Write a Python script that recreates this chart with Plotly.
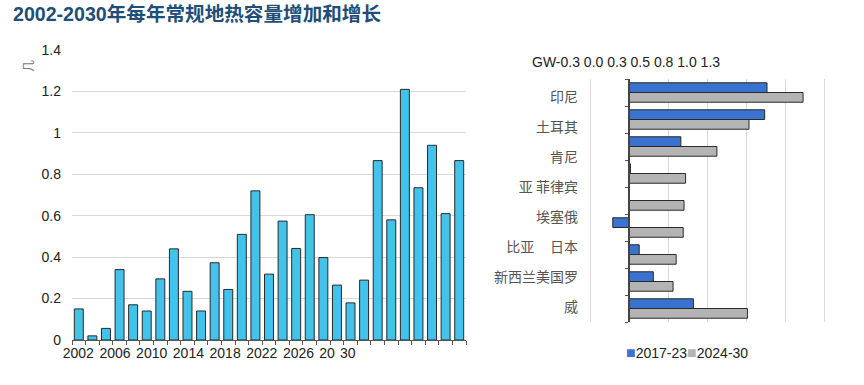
import plotly.graph_objects as go

W, H = 864, 385

# ---------------- data ----------------
years = list(range(2002, 2031))
annual_gw = [0.15, 0.02, 0.056, 0.34, 0.17, 0.14, 0.295, 0.44, 0.235, 0.14,
             0.373, 0.244, 0.51, 0.72, 0.318, 0.574, 0.442, 0.605, 0.398, 0.265,
             0.179, 0.289, 0.866, 0.58, 1.21, 0.735, 0.94, 0.61, 0.866]
left_tick_text = ["2002", "2006", "2010", "2014", "2018", "2022", "2026", "20", "30"]
left_y_ticks = [0, 0.2, 0.4, 0.6, 0.8, 1, 1.2, 1.4]

rows = list(range(9))
s2017_23 = [0.88, 0.865, 0.33, 0.008, 0.0, -0.105, 0.064, 0.154, 0.41]
s2024_30 = [1.11, 0.765, 0.56, 0.36, 0.35, 0.345, 0.30, 0.28, 0.755]
right_labels = ["印尼", "土耳其", "肯尼", "亚 菲律宾", "埃塞俄",
                "比亚\u00a0\u00a0\u00a0\u00a0\u00a0日本", "新西兰美国罗", "威"]
top_tick_text = ["-0.3", "0.0", "0.3", "0.5", "0.8", "1.0", "1.3"]
right_grid = [-0.25, 0, 0.25, 0.5, 0.75, 1.0, 1.25]
series_names = ["2017-23", "2024-30"]
series_colors = ["#3A72D0", "#B4B4B4"]

TITLE = "2002-2030年每年常规地热容量增加和增长"

# ---------------- helpers ----------------
def fx(px):
    return px / W

def fy(py):
    return 1 - py / H

LAT = "Liberation Sans, Arial, sans-serif"
CJK = "Noto Sans CJK SC, sans-serif"
MIX = "Liberation Sans, Noto Sans CJK SC, sans-serif"

fig = go.Figure()

# left chart bars
fig.add_trace(go.Bar(
    x=years, y=annual_gw, width=0.66,
    marker=dict(color="#41C3EC", line=dict(color="#2a2a2a", width=1)),
    xaxis="x", yaxis="y", showlegend=False, hoverinfo="x+y",
))

# right chart bars
fig.add_trace(go.Bar(
    y=rows, x=s2017_23, orientation="h", name=series_names[0],
    offset=-0.36, width=0.36, showlegend=False,
    marker=dict(color=series_colors[0], line=dict(color="#2a2a2a", width=1)),
    xaxis="x2", yaxis="y2",
))
fig.add_trace(go.Bar(
    y=rows, x=s2024_30, orientation="h", name=series_names[1],
    offset=0.0, width=0.36, showlegend=False,
    marker=dict(color=series_colors[1], line=dict(color="#2a2a2a", width=1)),
    xaxis="x2", yaxis="y2",
))
# invisible trace carrying the zero-axis overlay
fig.add_trace(go.Scatter(x=[None], y=[None], xaxis="x2", yaxis="y3",
                         showlegend=False, hoverinfo="skip"))

# left chart geometry
L_x0, L_x1 = 72, 466
L_y0, L_y1 = 50, 340
bw = (L_x1 - L_x0) / len(years)
first_c = L_x0 + bw / 2
label_px = [78.3 + i * 36.7 for i in range(7)] + [327.0, 347.8]
left_tickvals = [years[0] + (p - first_c) / bw for p in label_px]

# right chart geometry
R_x0, R_x1 = 588, 827
xr = [-0.263, 1.263]
R_y0, R_y1 = 79, 322
zero_frac = fx(R_x0) + (0 - xr[0]) / (xr[1] - xr[0]) * (fx(R_x1) - fx(R_x0))
label_pos = [0.156 + i * 30 / 27 for i in range(len(right_labels))]

legend_text = "".join(
    '<span style="color:%s;font-size:16px">■</span>%s' % (c, n)
    for c, n in zip(series_colors, series_names)
)

fig.update_layout(
    width=W, height=H,
    margin=dict(l=0, r=0, t=0, b=0, autoexpand=False),
    paper_bgcolor="white", plot_bgcolor="white",
    barmode="overlay",
    showlegend=False,
    font=dict(family=LAT, size=14, color="#222"),
    title=dict(text="<b>" + TITLE + "</b>", x=fx(13), xanchor="left",
               y=fy(14), yanchor="middle",
               font=dict(family=MIX, size=19.6, color="#1F4E79")),
    xaxis=dict(
        domain=[fx(L_x0), fx(L_x1)], range=[years[0] - 0.5, years[-1] + 0.5],
        anchor="y", tickmode="array", tickvals=left_tickvals, ticktext=left_tick_text,
        ticks="", showgrid=False, zeroline=False, automargin=False,
        showline=True, linecolor="#555", linewidth=1.2,
        minor=dict(ticks="outside", ticklen=4, tickcolor="#555",
                   tick0=years[0] - 0.5, dtick=1, showgrid=False),
        tickfont=dict(size=14, color="#222", family=LAT),
        fixedrange=True,
    ),
    yaxis=dict(
        domain=[fy(L_y1), fy(L_y0)], range=[0, 1.4], anchor="x",
        tickmode="array", tickvals=left_y_ticks,
        ticktext=[("%g" % v) for v in left_y_ticks],
        showgrid=True, gridcolor="#D9D9D9", gridwidth=1, zeroline=False,
        showline=False, ticks="", ticklabelstandoff=10, automargin=False,
        tickfont=dict(size=14, color="#222", family=LAT),
    ),
    xaxis2=dict(
        domain=[fx(R_x0), fx(R_x1)], range=xr, anchor="y2",
        tickmode="array", tickvals=right_grid, showticklabels=False,
        showgrid=True, gridcolor="#D9D9D9", gridwidth=1, automargin=False,
        zeroline=False, showline=False, ticks="",
    ),
    yaxis2=dict(
        domain=[fy(R_y1), fy(R_y0)], range=[8.5, -0.5], anchor="x2",
        tickmode="array", tickvals=label_pos, ticktext=right_labels,
        showgrid=False, zeroline=False, showline=False, ticks="",
        ticklabelstandoff=9, automargin=False,
        tickfont=dict(size=14, color="#555", family=CJK),
    ),
    yaxis3=dict(
        overlaying="y2", anchor="free", position=zero_frac, side="left",
        range=[8.5, -0.5], tickmode="array", automargin=False,
        tickvals=[r - 0.5 for r in rows] + [rows[-1] + 0.5],
        ticks="outside", ticklen=3, tickcolor="#555", showticklabels=False,
        showgrid=False, zeroline=False, showline=True, linecolor="#444", linewidth=1.5,
    ),
    annotations=[
        dict(text="GW" + " ".join(top_tick_text), xref="paper", yref="paper",
             x=fx(530), y=fy(62), xanchor="left", yanchor="middle", showarrow=False,
             font=dict(size=14, family=LAT, color="#222")),
        dict(text="几", xref="paper", yref="paper", x=fx(27), y=fy(66),
             xanchor="center", yanchor="middle", showarrow=False, textangle=-90,
             font=dict(size=12, family=CJK, color="#777")),
        dict(text=legend_text, xref="paper", yref="paper",
             x=fx(624), y=fy(352), xanchor="left", yanchor="middle", showarrow=False,
             font=dict(size=14, family=LAT, color="#222")),
    ],
)

fig.write_html("out.html", config={"displayModeBar": False},
               post_script="document.body.style.margin='0';")
